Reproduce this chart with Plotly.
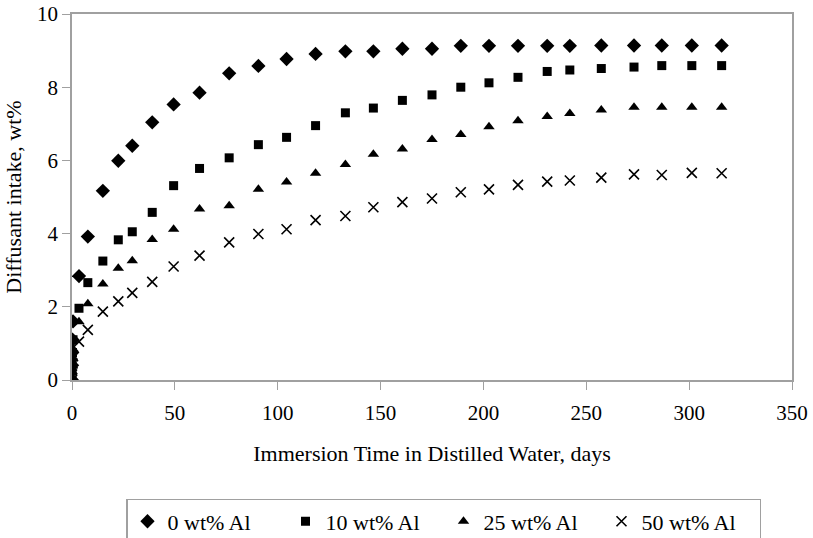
import plotly.graph_objects as go

# Immersion time (days)
days = [0, 0.04, 0.125, 0.25, 0.5, 3.4, 7.7, 15, 22.5, 29.3, 39, 49.4, 62, 76.4, 90.6,
        104.3, 118.4, 132.9, 146.5, 160.6, 175, 189, 202.7, 216.8, 231, 242, 257.3,
        273.2, 286.7, 301.3, 315.8]

al_0 = [0, 0.4, 0.75, 1.1, 1.6, 2.84, 3.92, 5.17, 5.99, 6.40, 7.04, 7.53, 7.85, 8.38, 8.58,
        8.77, 8.91, 8.98, 8.98, 9.05, 9.05, 9.13, 9.13, 9.13, 9.13, 9.13, 9.14,
        9.14, 9.14, 9.14, 9.14]

al_10 = [0, 0.25, 0.5, 0.75, 1.1, 1.96, 2.66, 3.25, 3.83, 4.05, 4.58, 5.31, 5.78, 6.07, 6.43,
         6.63, 6.95, 7.30, 7.43, 7.64, 7.79, 8.00, 8.12, 8.27, 8.43, 8.47, 8.51,
         8.55, 8.59, 8.59, 8.59]

al_25 = [0, 0.2, 0.4, 0.6, 0.85, 1.59, 2.08, 2.62, 3.05, 3.26, 3.84, 4.12, 4.67, 4.76, 5.21,
         5.41, 5.65, 5.89, 6.17, 6.31, 6.57, 6.71, 6.92, 7.08, 7.20, 7.28, 7.38,
         7.45, 7.45, 7.45, 7.45]

al_50 = [0, 0.15, 0.3, 0.45, 0.65, 1.05, 1.37, 1.87, 2.15, 2.38, 2.68, 3.10, 3.40, 3.76, 3.99,
         4.12, 4.37, 4.48, 4.72, 4.86, 4.96, 5.13, 5.21, 5.33, 5.42, 5.45, 5.53,
         5.62, 5.60, 5.66, 5.65]

x_ticks = [0, 50, 100, 150, 200, 250, 300, 350]
y_ticks = [0, 2, 4, 6, 8, 10]

names = ["0 wt% Al", "10 wt% Al", "25 wt% Al", "50 wt% Al"]
series = [al_0, al_10, al_25, al_50]
symbols = ["diamond", "square", "triangle-up", "x-thin-open"]
sizes = [11, 9, 10, 10]

fig = go.Figure()
for name, vals, sym, sz in zip(names, series, symbols, sizes):
    fig.add_trace(go.Scatter(
        x=days, y=vals, mode="markers", name=name,
        marker=dict(symbol=sym, size=sz, color="black",
                    line=dict(color="black", width=1.6 if "open" in sym else 0)),
    ))

font = "Liberation Serif"
axis_common = dict(
    showline=True, linecolor="#a0a0a0", linewidth=1.5, mirror=True,
    ticks="outside", ticklen=8, tickcolor="#a0a0a0", tickwidth=1.2,
    showgrid=False, zeroline=False, automargin=False,
    tickfont=dict(family=font, size=21, color="black"),
)

fig.update_layout(
    width=813, height=538,
    margin=dict(l=72, r=21, t=14, b=158, autoexpand=False),
    paper_bgcolor="white", plot_bgcolor="white",
    font=dict(family=font, color="black"),
    xaxis=dict(range=[0, 350], tickvals=x_ticks, ticklabelstandoff=5,
               title=dict(text="Immersion Time in Distilled Water, days",
                          font=dict(family=font, size=22), standoff=22),
               **axis_common),
    yaxis=dict(range=[0, 10], tickvals=y_ticks,
               title=dict(text="Diffusant intake, wt%",
                          font=dict(family=font, size=22), standoff=9),
               **axis_common),
    legend=dict(orientation="h", x=0.075, xanchor="left", y=-0.325, yanchor="top",
                bordercolor="#a0a0a0", borderwidth=1.5, bgcolor="white",
                font=dict(family=font, size=22, color="black"),
                entrywidth=113, entrywidthmode="pixels", itemsizing="trace"),
    showlegend=True,
)

fig.write_html("out.html", config={"displayModeBar": False})

# remove the default body margin so the figure sits at the page origin
with open("out.html", "r", encoding="utf-8") as f:
    html = f.read()
html = html.replace("<body>", '<body style="margin:0;padding:0;overflow:hidden;">', 1)
with open("out.html", "w", encoding="utf-8") as f:
    f.write(html)
